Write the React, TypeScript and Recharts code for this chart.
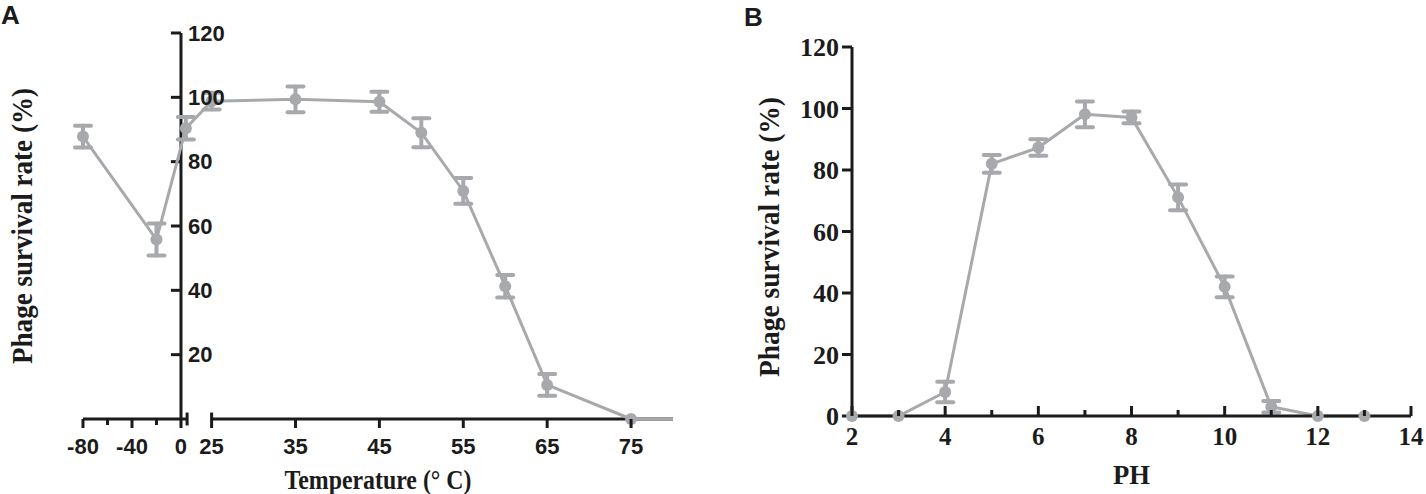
import { LineChart, Line, XAxis, YAxis, ErrorBar, ReferenceLine } from "recharts";

// Panel A: temperature stability
const TEMP_C = [-80, -20, 4, 25, 35, 45, 50, 55, 60, 65, 75];
const TEMP_SURVIVAL = [87.8, 55.8, 90.4, 98.8, 99.4, 98.6, 89, 70.9, 41.3, 10.6, 0];
const TEMP_ERR = [3.4, 5, 3.5, 2.6, 4, 3.1, 4.5, 4, 3.5, 3.4, null];
const TEMP_TICKS = [-80, -60, -40, -20, 0, 25, 35, 45, 55, 65, 75];
const TEMP_MINOR = [-60, -20];
const TEMP_Y_TICKS = [20, 40, 60, 80, 100, 120];

// Panel B: pH stability
const PH = [2, 3, 4, 5, 6, 7, 8, 9, 10, 11, 12, 13];
const PH_SURVIVAL = [0, 0, 7.8, 82, 87.3, 98.1, 97.1, 71.1, 42, 3, 0, 0];
const PH_ERR = [null, null, 3.3, 2.9, 2.7, 4.2, 1.9, 4.2, 3.4, 1.9, null, null];
const PH_TICKS = [2, 3, 4, 5, 6, 7, 8, 9, 10, 11, 12, 13, 14];
const PH_Y_TICKS = [0, 20, 40, 60, 80, 100, 120];

const GRAY = "#a7a9ac";
const INK = "#1b1b1b";
const SANS = '"Liberation Sans", Arial, sans-serif';
const SERIF = '"Liberation Serif", "Times New Roman", serif';

// broken x axis: the -80..0 part is squeezed, then a gap before 25 °C
const COLD_SCALE = 0.146;
const WARM_START = 15.33;
const axisPos = (t: number) => (t < 15 ? (t + 80) * COLD_SCALE : WARM_START + (t - 25));

const tempRows = TEMP_C.map((t, i) => ({ pos: axisPos(t), survival: TEMP_SURVIVAL[i], err: TEMP_ERR[i] }));
const phRows = PH.map((p, i) => ({ ph: p, survival: PH_SURVIVAL[i], err: PH_ERR[i] }));

function Title({ x, y, text, size, length, angle = 0 }: any) {
  return (
    <text
      x={x}
      y={y}
      transform={angle ? `rotate(${angle} ${x} ${y})` : undefined}
      textAnchor="middle"
      dominantBaseline="central"
      fontFamily={SERIF}
      fontWeight="bold"
      fontSize={size}
      textLength={length}
      lengthAdjust="spacingAndGlyphs"
      fill={INK}
    >
      {text}
    </text>
  );
}

function TempTick({ x, y, index }: any) {
  const t = TEMP_TICKS[index];
  const minor = TEMP_MINOR.includes(t);
  return (
    <g>
      <line x1={x} x2={x} y1={y} y2={y + (minor ? 6 : 9)} stroke={INK} strokeWidth={3} />
      {!minor && (
        <text x={x} y={y + 35} textAnchor="middle" fontFamily={SANS} fontWeight="bold" fontSize={22} fill={INK}>
          {t}
        </text>
      )}
    </g>
  );
}

function PhTick({ x, y, payload }: any) {
  const minor = payload.value % 2 === 1;
  return (
    <g>
      <line x1={x} x2={x} y1={y} y2={y - (minor ? 6 : 10)} stroke={INK} strokeWidth={3} />
      {!minor && (
        <text x={x} y={y + 29} textAnchor="middle" fontFamily={SERIF} fontWeight="bold" fontSize={25} fill={INK}>
          {payload.value}
        </text>
      )}
    </g>
  );
}

const seriesProps = {
  type: "linear" as const,
  dataKey: "survival",
  stroke: GRAY,
  strokeWidth: 3,
  dot: { r: 6, fill: GRAY, stroke: GRAY, strokeWidth: 0 },
  activeDot: false,
  isAnimationActive: false,
};

function TemperatureChart() {
  const zero = axisPos(0);
  return (
    <LineChart width={740} height={494} data={tempRows} margin={{ top: 33, right: 67, left: 0, bottom: 0 }}>
      <XAxis
        dataKey="pos"
        type="number"
        domain={[0, axisPos(80)]}
        ticks={TEMP_TICKS.map(axisPos)}
        interval={0}
        height={75}
        axisLine={false}
        tickLine={false}
        tickSize={0}
        tickMargin={0}
        tick={<TempTick />}
        label={{
          content: (p: any) => (
            <Title x={p.viewBox.x + p.viewBox.width / 2} y={p.viewBox.y + 61} text="Temperature (° C)" size={27} length={187} />
          ),
        }}
      />
      <YAxis
        domain={[0, 120]}
        width={83}
        tick={false}
        axisLine={false}
        tickLine={false}
        label={{
          content: (p: any) => (
            <Title x={p.viewBox.x + 21} y={226} text="Phage survival rate (%)" size={30} length={276} angle={-90} />
          ),
        }}
      />
      {/* y axis sits at 0 °C */}
      <ReferenceLine segment={[{ x: zero, y: 0 }, { x: zero, y: 120 }]} stroke={INK} strokeWidth={3} ifOverflow="visible" />
      {TEMP_Y_TICKS.map((v) => (
        <ReferenceLine
          key={v}
          segment={[{ x: zero - 1.2, y: v }, { x: zero, y: v }]}
          stroke={INK}
          strokeWidth={3}
          ifOverflow="visible"
          label={{ value: String(v), position: "right", offset: 7, fill: INK, fontSize: 22, fontWeight: 700, fontFamily: SANS }}
        />
      ))}
      {/* two pieces of the x axis with break caps */}
      <ReferenceLine segment={[{ x: axisPos(-80), y: 0 }, { x: axisPos(5), y: 0 }]} stroke={INK} strokeWidth={3} ifOverflow="visible" />
      <ReferenceLine segment={[{ x: axisPos(5), y: -2 }, { x: axisPos(5), y: 2 }]} stroke={INK} strokeWidth={3} ifOverflow="visible" />
      <ReferenceLine segment={[{ x: axisPos(25), y: 0 }, { x: axisPos(80), y: 0 }]} stroke={INK} strokeWidth={3} ifOverflow="visible" />
      <ReferenceLine segment={[{ x: axisPos(25), y: 0 }, { x: axisPos(25), y: 2 }]} stroke={INK} strokeWidth={3} ifOverflow="visible" />
      <ReferenceLine segment={[{ x: axisPos(75), y: 0 }, { x: axisPos(80), y: 0 }]} stroke={GRAY} strokeWidth={3} ifOverflow="visible" />
      <Line {...seriesProps}>
        <ErrorBar dataKey="err" direction="y" width={8} stroke={GRAY} strokeWidth={4} strokeLinecap="round" />
      </Line>
    </LineChart>
  );
}

function PhChart() {
  return (
    <LineChart width={686} height={494} data={phRows} margin={{ top: 47, right: 15, left: 0, bottom: 0 }}>
      <XAxis
        dataKey="ph"
        type="number"
        domain={[2, 14]}
        ticks={PH_TICKS}
        interval={0}
        height={78}
        axisLine={{ stroke: INK, strokeWidth: 3 }}
        tickLine={false}
        tickSize={0}
        tickMargin={0}
        tick={<PhTick />}
        label={{
          content: (p: any) => (
            <Title x={p.viewBox.x + p.viewBox.width / 2} y={p.viewBox.y + 59} text="PH" size={27} length={37} />
          ),
        }}
      />
      <YAxis
        domain={[0, 120]}
        ticks={PH_Y_TICKS}
        interval={0}
        width={112}
        axisLine={{ stroke: INK, strokeWidth: 3 }}
        tickLine={{ stroke: INK, strokeWidth: 3 }}
        tickSize={10}
        tickMargin={3}
        tick={{ fill: INK, fontSize: 26, fontWeight: 700, fontFamily: SERIF }}
        label={{
          content: (p: any) => (
            <Title x={p.viewBox.x + 28} y={237} text="Phage survival rate (%)" size={30} length={280} angle={-90} />
          ),
        }}
      />
      <Line {...seriesProps}>
        <ErrorBar dataKey="err" direction="y" width={8} stroke={GRAY} strokeWidth={4} strokeLinecap="round" />
      </Line>
    </LineChart>
  );
}

export default function App() {
  return (
    <div style={{ position: "absolute", left: 0, top: 0, width: 1426, height: 494, background: "#fff" }}>
      <div style={{ position: "absolute", left: 0, top: 0 }}>
        <TemperatureChart />
      </div>
      <div style={{ position: "absolute", left: 740, top: 0 }}>
        <PhChart />
      </div>
      <svg width={1426} height={494} style={{ position: "absolute", left: 0, top: 0, pointerEvents: "none" }}>
        <text x={1} y={24} fontFamily={SANS} fontWeight="bold" fontSize={26} fill={INK}>A</text>
        <text x={744} y={26} fontFamily={SANS} fontWeight="bold" fontSize={26} fill={INK}>B</text>
      </svg>
    </div>
  );
}
